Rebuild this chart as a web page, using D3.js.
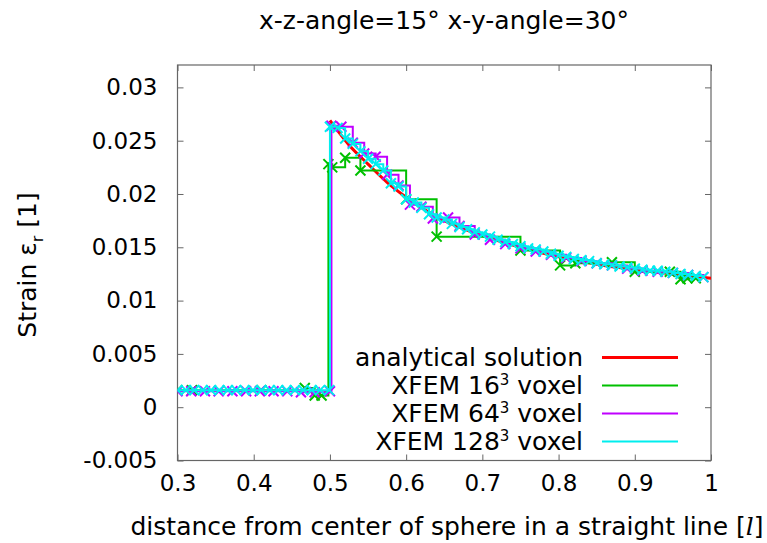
<!DOCTYPE html>
<html><head><meta charset="utf-8">
<script src="https://cdn.jsdelivr.net/npm/d3@7/dist/d3.min.js"></script>
<style>
body{margin:0;background:#fff;}
text{font-family:"DejaVu Sans",sans-serif;fill:#000;}
</style></head>
<body><svg id="c" width="767" height="543"></svg>
<script>
const title = "x-z-angle=15° x-y-angle=30°";
const xTicks = [0.3,0.4,0.5,0.6,0.7,0.8,0.9,1.0];
const xTickLabels = ["0.3","0.4","0.5","0.6","0.7","0.8","0.9","1"];
const yTicks = [-0.005,0,0.005,0.01,0.015,0.02,0.025,0.03];
const yTickLabels = ["-0.005","0","0.005","0.01","0.015","0.02","0.025","0.03"];

// analytical solution (outside the inclusion)
const anaX = [0.5,0.525,0.55,0.575,0.6,0.625,0.65,0.7,0.75,0.8,0.85,0.9,0.95,1.0];
const anaY = [0.0269,0.0246,0.0228,0.0211,0.0197,0.0185,0.0175,0.0161,0.0150,0.0141,0.0134,0.0129,0.0125,0.0121];

// XFEM 16^3
const g16X = [0.3,0.319,0.41,0.467,0.48,0.489,0.498,0.503,0.52,0.54,0.6,0.64,0.75,0.802,0.822,0.87,0.90,0.946,0.96,0.969,0.98];
const g16Y = [0.0016,0.0016,0.0016,0.0018,0.0011,0.0011,0.0228,0.0225,0.0234,0.0222,0.0195,0.0160,0.0147,0.0133,0.0135,0.0136,0.0127,0.0127,0.0120,0.0121,0.0121];

// XFEM 64^3
const g64X = [0.3,0.318,0.336,0.354,0.372,0.390,0.408,0.426,0.444,0.462,0.480,0.500,0.502,0.515,0.53,0.545,0.56,0.575,0.59,0.605,0.62,0.635,0.655,0.67,0.69,0.71,0.73,0.75,0.77,0.79,0.81,0.83,0.85,0.87,0.89,0.91,0.93,0.95,0.97,0.99];
const g64Y = [0.0015,0.0015,0.0015,0.0015,0.0015,0.0015,0.0015,0.0015,0.0015,0.0014,0.0014,0.0015,0.0264,0.0263,0.0248,0.0238,0.0235,0.0218,0.0208,0.0190,0.0188,0.0177,0.0178,0.0170,0.0162,0.0157,0.0153,0.0149,0.0146,0.0143,0.0140,0.0137,0.0135,0.0133,0.0130,0.0128,0.0127,0.0126,0.0124,0.0122];

// XFEM 128^3
const g128X = [0.3,0.311,0.322,0.333,0.344,0.355,0.366,0.377,0.388,0.399,0.41,0.421,0.432,0.443,0.454,0.465,0.476,0.487,0.499,0.5,0.51,0.52,0.53,0.54,0.55,0.56,0.57,0.58,0.59,0.6,0.61,0.62,0.63,0.64,0.65,0.66,0.67,0.68,0.69,0.70,0.71,0.72,0.73,0.74,0.75,0.76,0.77,0.78,0.79,0.80,0.81,0.82,0.83,0.84,0.85,0.86,0.87,0.88,0.89,0.90,0.91,0.92,0.93,0.94,0.95,0.96,0.97,0.98,0.99];
const g128Y = [0.0016,0.0016,0.0016,0.0016,0.0016,0.0016,0.0016,0.0016,0.0016,0.0016,0.0016,0.0016,0.0016,0.0016,0.0016,0.0016,0.0016,0.0016,0.0016,0.0263,0.0262,0.0252,0.0247,0.0240,0.0233,0.0228,0.0222,0.0210,0.0207,0.0195,0.0192,0.0187,0.0181,0.0178,0.0176,0.0172,0.0169,0.0167,0.0164,0.0162,0.0160,0.0157,0.0155,0.0153,0.0151,0.0149,0.0148,0.0146,0.0144,0.0142,0.0141,0.0139,0.0138,0.0137,0.0135,0.0134,0.0133,0.0132,0.0131,0.0130,0.0129,0.0128,0.0128,0.0127,0.0126,0.0125,0.0124,0.0123,0.0122];

const legendLabels = [["analytical solution"],["XFEM 16","3"," voxel"],["XFEM 64","3"," voxel"],["XFEM 128","3"," voxel"]];
const colors = ["#ff0000","#00c000","#c000ff","#00eeee"];

const L=177.5,R=711,T=65,B=460.5;
const x = d3.scaleLinear().domain([0.3,1.0]).range([L,R]);
const y = d3.scaleLinear().domain([-0.005,0.0321]).range([B,T]);
const svg = d3.select("#c");
const fs = 25, tfs = 23;

svg.append("text").attr("x",444).attr("y",29).attr("text-anchor","middle").attr("font-size",fs).text(title);

const gBot = svg.append("g").attr("transform",`translate(0,${B})`).call(d3.axisBottom(x).tickValues(xTicks).tickSizeInner(-6).tickSizeOuter(0).tickPadding(14).tickFormat((d,i)=>xTickLabels[i]));
const gTop = svg.append("g").attr("transform",`translate(0,${T})`).call(d3.axisTop(x).tickValues(xTicks).tickSizeInner(-6).tickSizeOuter(0).tickFormat(""));
const gLft = svg.append("g").attr("transform",`translate(${L},0)`).call(d3.axisLeft(y).tickValues(yTicks).tickSizeInner(-6).tickSizeOuter(0).tickPadding(20).tickFormat((d,i)=>yTickLabels[i]));
const gRgt = svg.append("g").attr("transform",`translate(${R},0)`).call(d3.axisRight(y).tickValues(yTicks).tickSizeInner(-6).tickSizeOuter(0).tickFormat(""));
[gBot,gTop,gLft,gRgt].forEach(g=>{
  g.select(".domain").remove();
  g.selectAll(".tick line").attr("stroke","#666");
  g.selectAll("text").attr("font-size",tfs).attr("font-family","DejaVu Sans").attr("fill","#000");
});
svg.append("rect").attr("x",L).attr("y",T).attr("width",R-L).attr("height",B-T).attr("fill","none").attr("stroke","#666").attr("stroke-width",1.2);

svg.append("defs").append("clipPath").attr("id","clip").append("rect").attr("x",L).attr("y",T).attr("width",R-L).attr("height",B-T);
const plot = svg.append("g").attr("clip-path","url(#clip)");

const ana = anaX.map((d,i)=>[d,anaY[i]]);
plot.append("path").datum(ana).attr("fill","none").attr("stroke",colors[0]).attr("stroke-width",3)
  .attr("d",d3.line().x(d=>x(d[0])).y(d=>y(d[1])).curve(d3.curveMonotoneX));

const series = [
  {xs:g16X, ys:g16Y, c:colors[1]},
  {xs:g64X, ys:g64Y, c:colors[2]},
  {xs:g128X, ys:g128Y, c:colors[3]}
];
series.forEach(s=>{
  const pts = s.xs.map((d,i)=>[d,s.ys[i]]);
  plot.append("path").datum(pts).attr("fill","none").attr("stroke",s.c).attr("stroke-width",2)
    .attr("d",d3.line().x(d=>x(d[0])).y(d=>y(d[1])).curve(d3.curveStepAfter));
  const m=5;
  plot.append("g").selectAll("path").data(pts).join("path")
    .attr("d",d=>{const px=x(d[0]),py=y(d[1]);return `M${px-m},${py-m}L${px+m},${py+m}M${px-m},${py+m}L${px+m},${py-m}`;})
    .attr("stroke",s.c).attr("stroke-width",2).attr("fill","none");
});

const ly=[357.5,385.5,413.5,441.5];
legendLabels.forEach((lab,i)=>{
  const t = svg.append("text").attr("x",583).attr("y",ly[i]+8).attr("text-anchor","end").attr("font-size",fs);
  t.append("tspan").text(lab[0]);
  if(lab.length>1){
    t.append("tspan").attr("dy",-9).attr("font-size",15).text(lab[1]);
    t.append("tspan").attr("dy",9).text(lab[2]);
  }
  svg.append("line").attr("x1",602).attr("x2",678).attr("y1",ly[i]).attr("y2",ly[i]).attr("stroke",colors[i]).attr("stroke-width",i==0?3:2);
});

const xl = svg.append("text").attr("x",447).attr("y",535).attr("text-anchor","middle").attr("font-size",fs);
xl.append("tspan").text("distance from center of sphere in a straight line [");
xl.append("tspan").attr("font-style","italic").attr("font-family","DejaVu Serif").text("l");
xl.append("tspan").text("]");
const yl = svg.append("text").attr("transform","translate(36,265) rotate(-90)").attr("text-anchor","middle").attr("font-size",fs);
yl.append("tspan").text("Strain ε");
yl.append("tspan").attr("dy",7).attr("font-size",16).text("r");
yl.append("tspan").attr("dy",-7).text(" [1]");
</script></body></html>
